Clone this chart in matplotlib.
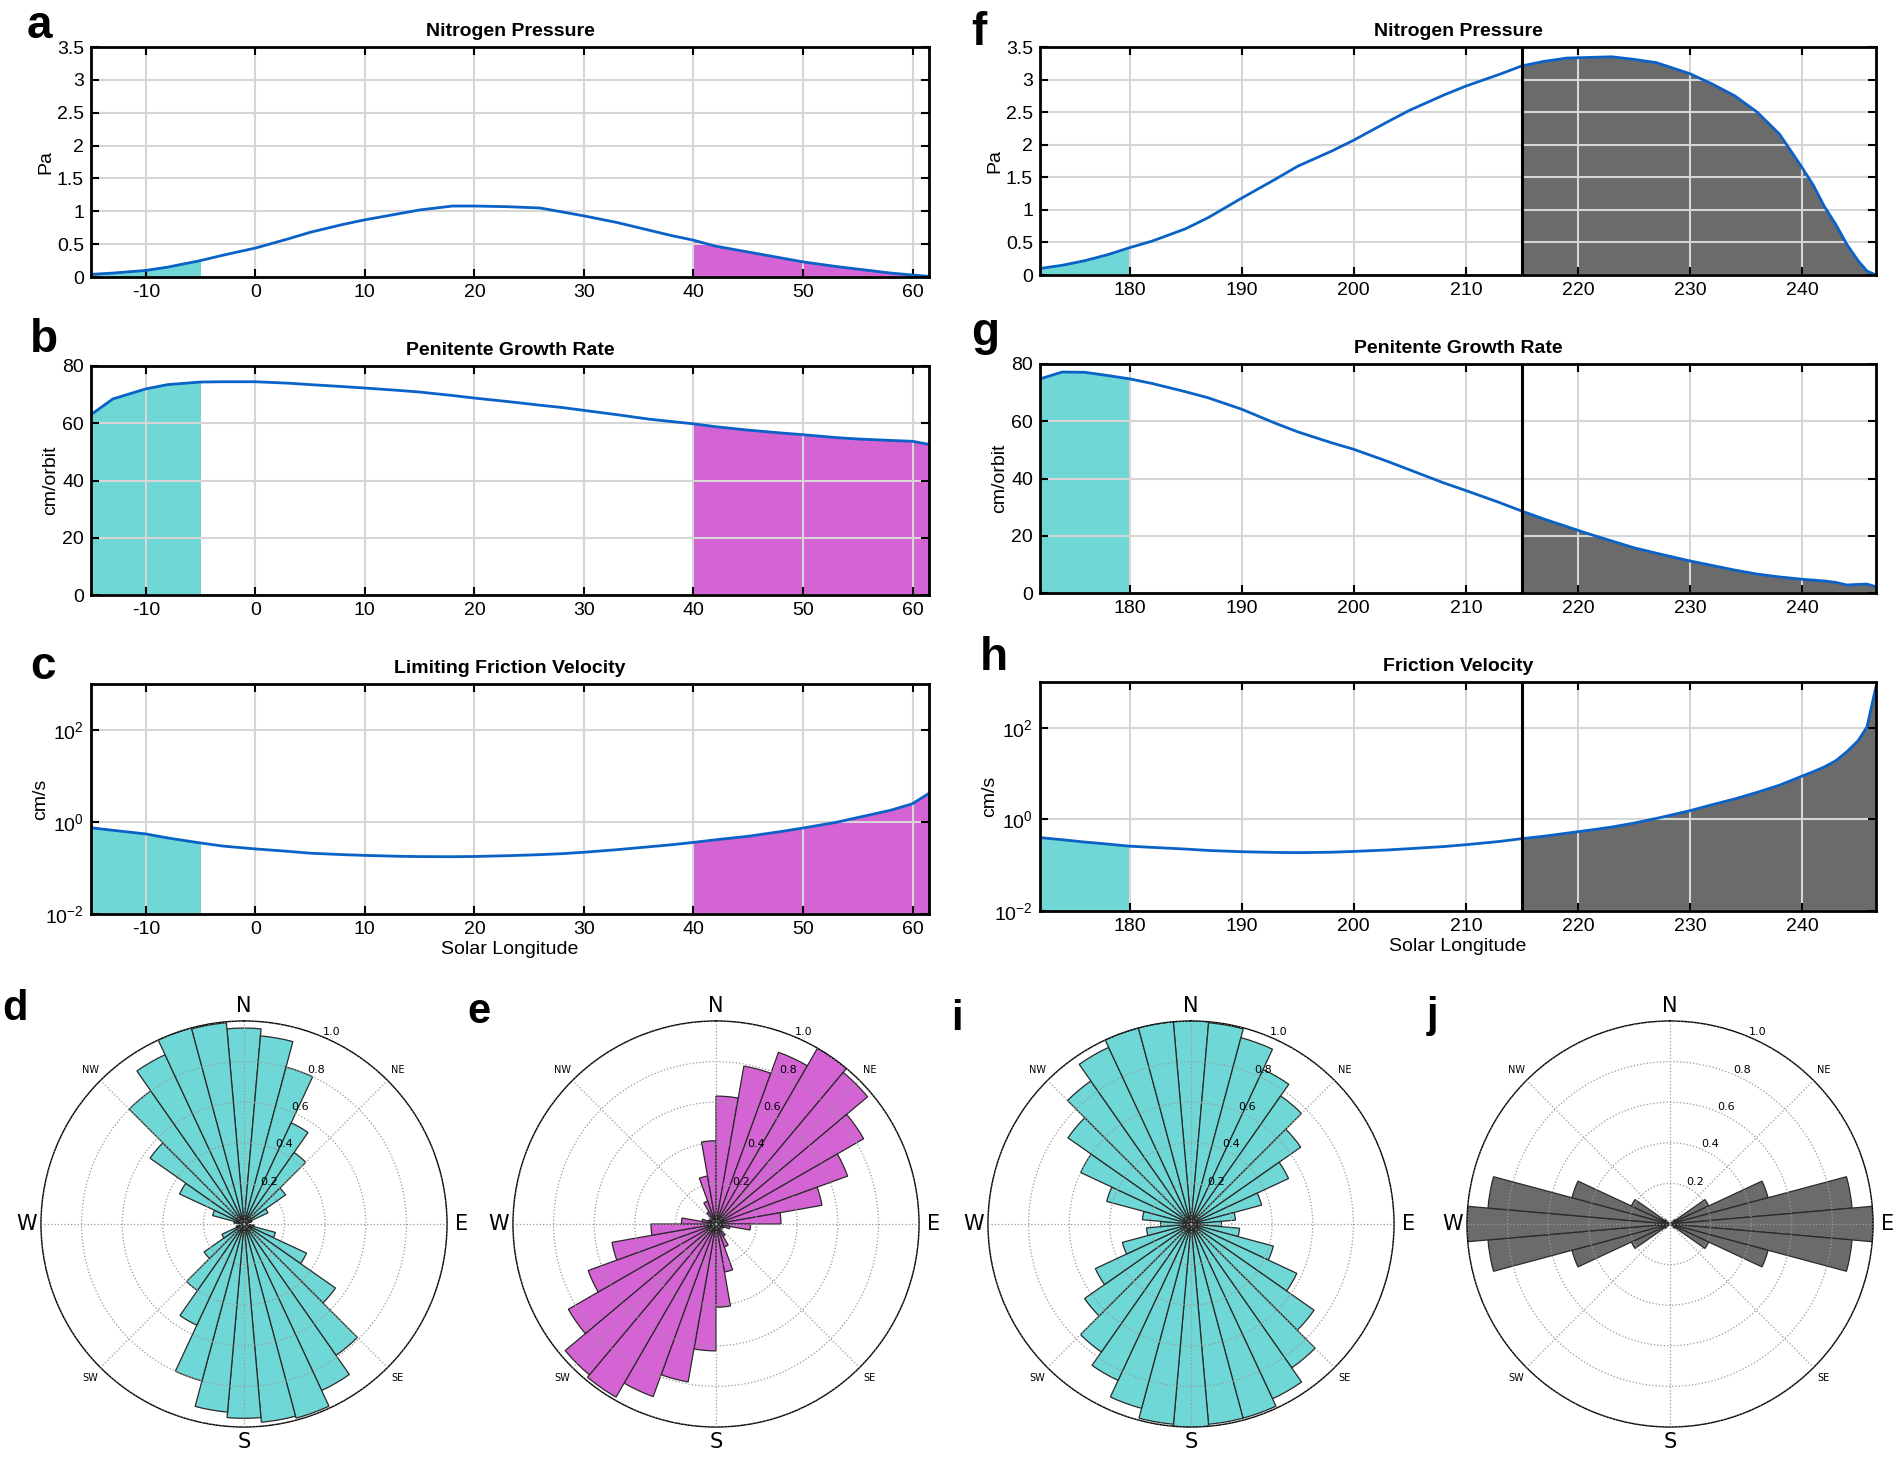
import numpy as np
import matplotlib
matplotlib.use("Agg")
import matplotlib.pyplot as plt
from matplotlib.ticker import FixedLocator, FuncFormatter, NullLocator

plt.rcParams['font.family'] = ['Liberation Sans', 'DejaVu Sans']
plt.rcParams['axes.unicode_minus'] = False
plt.rcParams['mathtext.default'] = 'regular'

# ---- season windows (solar longitude) ----
CYAN_L, MAG_L = (-15, -5), (40, 61.5)
CYAN_R, GRAY_R = (172, 180), (215, 246.6)
SPLIT_R = 215

# ---- left column: Ls -15..61.5 ----
ls_left = [-15, -13, -10, -8, -5, -3, 0, 3, 5, 8, 10, 13, 15, 18, 20, 23, 26, 28,
           30, 33, 36, 38, 40, 42, 45, 48, 50, 53, 55, 58, 60, 61.5]
pres_left = [0.04, 0.06, 0.10, 0.15, 0.25, 0.33, 0.44, 0.58, 0.68, 0.80, 0.87, 0.96,
             1.02, 1.08, 1.08, 1.07, 1.05, 0.99, 0.93, 0.83, 0.71, 0.63, 0.56, 0.47,
             0.38, 0.29, 0.23, 0.16, 0.12, 0.06, 0.03, 0.01]
growth_left = [63.0, 68.5, 72.0, 73.5, 74.4, 74.5, 74.5, 74.0, 73.5, 72.8, 72.3, 71.5,
               70.9, 69.7, 68.8, 67.6, 66.3, 65.5, 64.5, 63.0, 61.4, 60.6, 59.8, 58.8,
               57.6, 56.6, 56.0, 55.0, 54.5, 54.0, 53.7, 52.6]
fric_left = [0.75, 0.66, 0.55, 0.45, 0.35, 0.30, 0.26, 0.23, 0.21, 0.195, 0.188, 0.18,
             0.177, 0.176, 0.178, 0.185, 0.195, 0.205, 0.22, 0.25, 0.29, 0.32, 0.36,
             0.41, 0.49, 0.62, 0.74, 0.98, 1.25, 1.8, 2.5, 4.2]

# ---- right column: Ls 172..246.6 ----
ls_right = [172, 174, 176, 178, 180, 182, 185, 187, 190, 193, 195, 198, 200, 203, 205,
            208, 210, 213, 215, 217, 219, 221, 223, 225, 227, 230, 232, 234, 236, 238,
            240, 241, 242, 243, 244, 245, 245.8, 246.6]
pres_right = [0.10, 0.15, 0.22, 0.31, 0.42, 0.52, 0.71, 0.88, 1.18, 1.47, 1.67, 1.90,
              2.07, 2.35, 2.53, 2.76, 2.90, 3.08, 3.21, 3.28, 3.33, 3.34, 3.35, 3.31,
              3.26, 3.09, 2.93, 2.75, 2.50, 2.16, 1.65, 1.38, 1.05, 0.78, 0.47, 0.22,
              0.06, 0.0]
growth_right = [74.8, 77.2, 77.1, 76.0, 74.8, 73.2, 70.3, 68.2, 64.2, 59.3, 56.3, 52.5,
                50.2, 46.0, 43.0, 38.5, 35.8, 31.6, 28.6, 25.8, 23.2, 20.6, 18.2, 15.8,
                13.9, 11.2, 9.6, 8.0, 6.6, 5.6, 4.8, 4.5, 4.2, 3.7, 2.8, 3.0, 3.1, 2.2]
fric_right = [0.40, 0.36, 0.32, 0.29, 0.26, 0.245, 0.225, 0.21, 0.197, 0.19, 0.188,
              0.192, 0.20, 0.215, 0.23, 0.255, 0.28, 0.33, 0.38, 0.43, 0.50, 0.58, 0.68,
              0.83, 1.05, 1.55, 2.1, 2.8, 3.9, 5.6, 8.8, 11, 14, 19, 30, 52, 105, 800]

# ---- wind roses (bin centre in degrees clockwise from N, normalised count) ----
rose_theta = list(range(0, 360, 10))
rose_theta_e = list(range(5, 360, 10))
rose_d = [0.965, 0.93, 0.80, 0.55, 0.43, 0.25, 0.13, 0.04, 0.02, 0.01, 0.05, 0.16,
          0.34, 0.55, 0.79, 0.905, 0.99, 0.98, 0.957, 0.93, 0.80, 0.55, 0.40, 0.24,
          0.12, 0.04, 0.02, 0.01, 0.05, 0.16, 0.35, 0.565, 0.80, 0.92, 1.0, 0.995]
rose_e = [0.63, 0.79, 0.90, 1.0, 0.975, 0.84, 0.69, 0.53, 0.32, 0.17, 0.07, 0.04,
          0.03, 0.04, 0.07, 0.12, 0.24, 0.41, 0.625, 0.79, 0.905, 0.985, 0.97, 0.84,
          0.67, 0.52, 0.32, 0.17, 0.07, 0.04, 0.03, 0.04, 0.07, 0.12, 0.24, 0.41]
rose_i = [1.0, 0.995, 0.95, 0.84, 0.77, 0.66, 0.53, 0.36, 0.22, 0.15, 0.24, 0.42,
          0.575, 0.74, 0.865, 0.95, 0.99, 0.99, 1.0, 0.99, 0.94, 0.85, 0.77, 0.64,
          0.52, 0.35, 0.22, 0.15, 0.24, 0.43, 0.60, 0.74, 0.86, 0.96, 1.0, 1.0]
rose_j = [0, 0, 0, 0, 0, 0.03, 0.21, 0.50, 0.90, 1.0, 0.90, 0.50,
          0.21, 0.03, 0, 0, 0, 0, 0, 0, 0, 0, 0, 0.03,
          0.21, 0.50, 0.90, 1.0, 0.90, 0.50, 0.21, 0.03, 0, 0, 0, 0]

CYAN = '#6fd8d6'
MAGENTA = '#d463d4'
GRAY = '#6b6b6b'
BLUE = '#0a62c6'

W, H = 1897, 1470
fig = plt.figure(figsize=(W / 100, H / 100), dpi=100)


def px_axes(left, top, right, bottom, **kw):
    return fig.add_axes([left / W, 1 - bottom / H, (right - left) / W, (bottom - top) / H], **kw)


def g_fmt(v, pos):
    return f"{v:g}"


def line_panel(ax, x, y, title, ylabel, fills, xticks, xlim, log=False, split=None,
               xlabel=None):
    x = np.asarray(x, float)
    y = np.asarray(y, float)
    base = 1e-2 if log else 0.0
    for (lo, hi), c in fills:
        m = (x >= lo) & (x <= hi)
        ax.fill_between(x[m], y[m], base, color=c, lw=0, zorder=1)
    ax.plot(x, y, color=BLUE, lw=2, zorder=4)
    if split is not None:
        ax.axvline(split, color='k', lw=2.2, zorder=5)
    ax.set_xlim(*xlim)
    ax.set_xticks(xticks)
    ax.xaxis.set_major_formatter(FuncFormatter(g_fmt))
    if log:
        ax.set_yscale('log')
        ax.set_ylim(1e-2, 1e3)
        ax.yaxis.set_major_locator(FixedLocator([1e-2, 1, 1e2]))
        ax.yaxis.set_minor_locator(NullLocator())
    ax.grid(True, color='#d6d6d6', lw=1.5)
    ax.set_axisbelow(False)
    ax.tick_params(direction='in', top=True, right=True, length=6, width=1.5,
                   labelsize=14, pad=5)
    for s in ax.spines.values():
        s.set_linewidth(2)
        s.set_zorder(6)
    ax.set_title(title, fontsize=14, fontweight='bold', pad=8)
    ax.set_ylabel(ylabel, fontsize=14, labelpad=-3 if log else 2)
    if xlabel:
        ax.set_xlabel(xlabel, fontsize=14, labelpad=2)


rows_l = [(47, 277), (366, 595), (684, 914)]
rows_r = [(47, 275), (364, 593), (682, 911)]
cols = [(91, 929), (1040, 1876)]
left_fills = [(CYAN_L, CYAN), (MAG_L, MAGENTA)]
right_fills = [(CYAN_R, CYAN), (GRAY_R, GRAY)]
xt_l, xl_l = [-10, 0, 10, 20, 30, 40, 50, 60], (-15, 61.5)
xt_r, xl_r = [180, 190, 200, 210, 220, 230, 240], (172, 246.6)

ax = px_axes(cols[0][0], rows_l[0][0], cols[0][1], rows_l[0][1])
line_panel(ax, ls_left, pres_left, 'Nitrogen Pressure', 'Pa', left_fills, xt_l, xl_l)
ax.set_ylim(0, 3.5)
ax.set_yticks(np.arange(0, 3.51, 0.5))
ax.yaxis.set_major_formatter(FuncFormatter(g_fmt))

ax = px_axes(cols[0][0], rows_l[1][0], cols[0][1], rows_l[1][1])
line_panel(ax, ls_left, growth_left, 'Penitente Growth Rate', 'cm/orbit', left_fills,
           xt_l, xl_l)
ax.set_ylim(0, 80)
ax.set_yticks([0, 20, 40, 60, 80])

ax = px_axes(cols[0][0], rows_l[2][0], cols[0][1], rows_l[2][1])
line_panel(ax, ls_left, fric_left, 'Limiting Friction Velocity', 'cm/s', left_fills,
           xt_l, xl_l, log=True, xlabel='Solar Longitude')

ax = px_axes(cols[1][0], rows_r[0][0], cols[1][1], rows_r[0][1])
line_panel(ax, ls_right, pres_right, 'Nitrogen Pressure', 'Pa', right_fills, xt_r, xl_r,
           split=SPLIT_R)
ax.set_ylim(0, 3.5)
ax.set_yticks(np.arange(0, 3.51, 0.5))
ax.yaxis.set_major_formatter(FuncFormatter(g_fmt))

ax = px_axes(cols[1][0], rows_r[1][0], cols[1][1], rows_r[1][1])
line_panel(ax, ls_right, growth_right, 'Penitente Growth Rate', 'cm/orbit', right_fills,
           xt_r, xl_r, split=SPLIT_R)
ax.set_ylim(0, 80)
ax.set_yticks([0, 20, 40, 60, 80])

ax = px_axes(cols[1][0], rows_r[2][0], cols[1][1], rows_r[2][1])
line_panel(ax, ls_right, fric_right, 'Friction Velocity', 'cm/s', right_fills, xt_r, xl_r,
           log=True, split=SPLIT_R, xlabel='Solar Longitude')


# ---- wind roses ----
def rose(cx, theta, r, color):
    rad = 203
    cy = 1224
    ax = px_axes(cx - rad, cy - rad, cx + rad, cy + rad, projection='polar')
    ax.set_theta_zero_location('N')
    ax.set_theta_direction(-1)
    ax.bar(np.radians(theta), r, width=np.radians(10), color=color,
           edgecolor='#2a2a2a', lw=0.9, zorder=1)
    ax.set_ylim(0, 1)
    ax.set_yticks([0.2, 0.4, 0.6, 0.8, 1.0])
    ax.set_yticklabels(['0.2', '0.4', '0.6', '0.8', '1.0'], fontsize=8,
                       family='DejaVu Sans')
    ax.set_rlabel_position(23)
    ax.set_xticks(np.radians(np.arange(0, 360, 45)))
    ax.set_xticklabels(['N', 'NE', 'E', 'SE', 'S', 'SW', 'W', 'NW'], family='DejaVu Sans')
    for lab, fs in zip(ax.get_xticklabels(), [15, 7, 15, 7, 15, 7, 15, 7]):
        lab.set_fontsize(fs)
    ax.tick_params(axis='x', pad=0)
    ax.grid(True, color='#9a9a9a', ls=':', lw=0.9)
    ax.set_axisbelow(False)
    ax.spines['polar'].set_linewidth(1.0)
    return ax


rose(244, rose_theta, rose_d, CYAN)
rose(716, rose_theta_e, rose_e, MAGENTA)
rose(1191, rose_theta, rose_i, CYAN)
rose(1670, rose_theta, rose_j, GRAY)

# ---- panel letters ----
letters = [('a', 27, 38, 33), ('b', 30, 352, 33), ('c', 30, 679, 33),
           ('f', 971, 45, 33), ('g', 971, 345, 33), ('h', 980, 670, 33),
           ('d', 2, 1020, 30), ('e', 467, 1023, 30), ('i', 951, 1030, 30),
           ('j', 1427, 1027, 30)]
for ch, x, y, fs in letters:
    fig.text(x / W, 1 - y / H, ch, fontsize=fs, fontweight='bold', ha='left',
             va='baseline')

fig.savefig('out.png', dpi=100)
